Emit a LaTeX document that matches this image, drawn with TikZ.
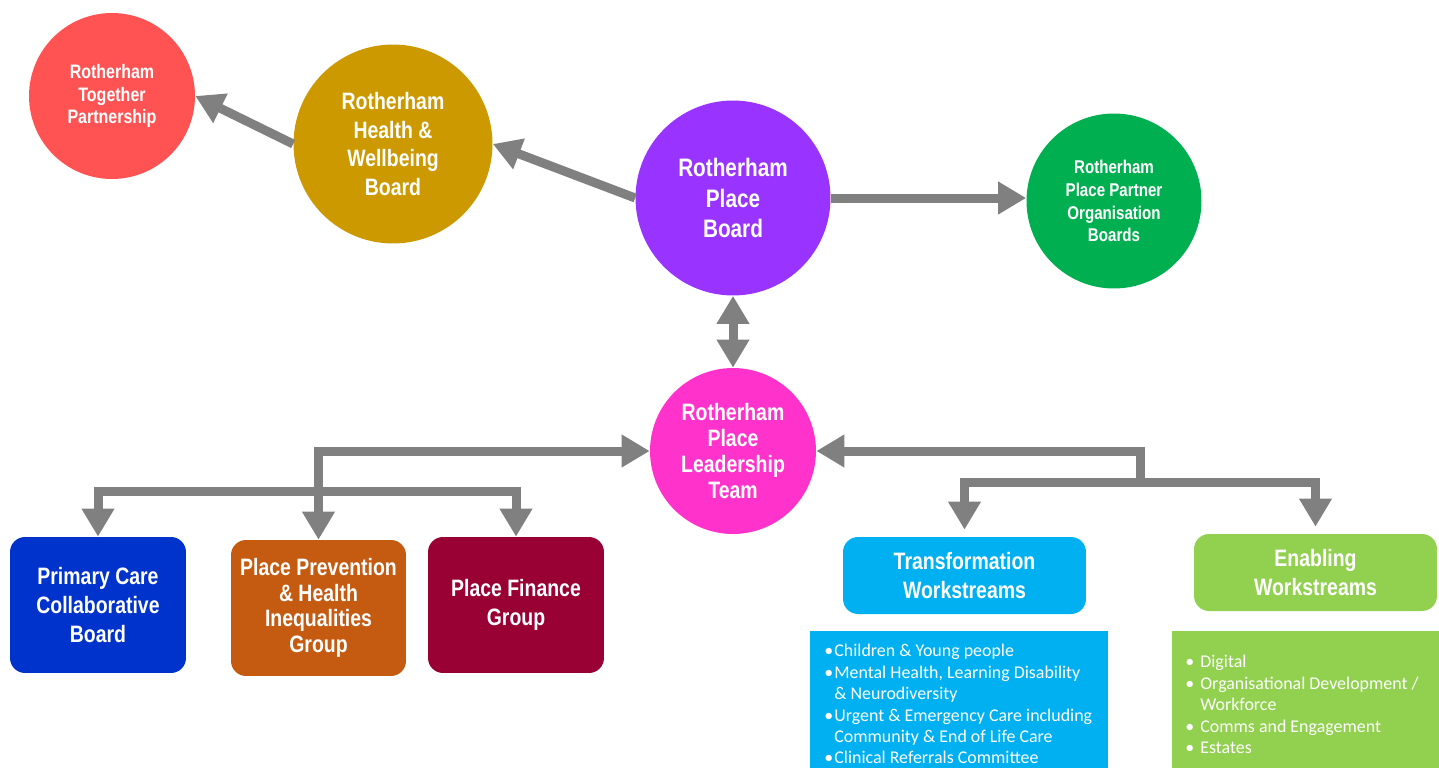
\documentclass[tikz,border=0pt]{standalone}
\usepackage{fontspec}
\setmainfont{Liberation Sans}
\newfontfamily\narrowfont[FakeStretch=0.82]{Liberation Sans}
\newfontfamily\listfont{Carlito}
\usetikzlibrary{arrows.meta}

\definecolor{togred}{HTML}{FF5353}
\definecolor{hwbgold}{HTML}{CC9900}
\definecolor{boardpurple}{HTML}{9933FF}
\definecolor{partgreen}{HTML}{00B050}
\definecolor{ldrpink}{HTML}{FF33CC}
\definecolor{primblue}{HTML}{0033CC}
\definecolor{prevorange}{HTML}{C55A11}
\definecolor{finred}{HTML}{990033}
\definecolor{transblue}{HTML}{00B0F0}
\definecolor{enabgreen}{HTML}{92D050}
\definecolor{arrowgray}{HTML}{808080}

\newcommand{\bfsize}[2]{\narrowfont\bfseries\fontsize{#1}{#2}\selectfont}
\newcommand{\bul}[1]{\makebox[#1][l]{\textbullet}}

\begin{document}
\begin{tikzpicture}[x=0.02cm, y=-0.02cm,
  bubble/.style={circle, fill=#1, text=white, inner sep=0pt, align=center},
  panel/.style={rectangle, rounded corners=0.3cm, fill=#1, text=white, inner sep=0pt, align=center},
  listbox/.style={rectangle, fill=#1, inner sep=0pt, anchor=north west},
  listtext/.style={anchor=north west, inner sep=0pt, align=left, text=white,
    font=\listfont\fontsize{10.2}{12.2}\selectfont},
  conn/.style={draw=arrowgray, line width=0.18cm, line join=miter,
    -{Triangle[width=0.62cm,length=0.56cm]}},
  twoway/.style={conn, {Triangle[width=0.62cm,length=0.56cm]}-{Triangle[width=0.62cm,length=0.56cm]}}]

	\useasboundingbox (0,0) rectangle (1439,767);
	\clip (0,0) rectangle (1439,767);

	% Circles top
	\node[bubble=togred, minimum size=3.32cm, font=\bfsize{11.1}{13}] (tog) at (112,96) {Rotherham\\Together\\Partnership};
	\node[bubble=hwbgold, minimum size=3.98cm, font=\bfsize{13.5}{16.4}] (hwb) at (393,144) {Rotherham\\Health \&\\Wellbeing\\Board};
	\node[bubble=boardpurple, minimum size=3.9cm, font=\bfsize{14.4}{17.6}] (board) at (733,198) {Rotherham\\Place\\Board};
	\node[bubble=partgreen, minimum size=3.5cm, font=\bfsize{10.5}{13}] (part) at (1114,201) {Rotherham\\Place Partner\\Organisation\\Boards};
	\node[bubble=ldrpink, minimum size=3.32cm, font=\bfsize{13.5}{14.7}] (ldr) at (733,451) {Rotherham\\Place\\Leadership\\Team};

	% Groups left
	\node[panel=primblue, minimum width=3.52cm, minimum height=2.72cm, font=\bfsize{13.5}{16.4}] (prim) at (98,605) {Primary Care\\Collaborative\\Board};
	\node[panel=prevorange, minimum width=3.5cm, minimum height=2.72cm, font=\bfsize{13.5}{14.6}] (prev) at (318.5,608) {Place Prevention\\\& Health\\Inequalities\\Group};
	\node[panel=finred, minimum width=3.52cm, minimum height=2.72cm, font=\bfsize{13.5}{16.4}] (fin) at (516,605) {Place Finance\\Group};

	% Workstreams right
	\node[panel=transblue, minimum width=4.86cm, minimum height=1.54cm, font=\bfsize{13.5}{16.4}] (trans) at (964.5,575.5) {Transformation\\Workstreams};
	\node[panel=enabgreen, minimum width=4.86cm, minimum height=1.54cm, font=\bfsize{13.5}{16.4}] (enab) at (1315.5,572.5) {Enabling\\Workstreams};

	% Lists
	\node[listbox=transblue, minimum width=5.96cm, minimum height=3cm] (tlist) at (810,631) {};
	\node[listtext] (ttext) at (824,644) {\bul{0.2cm}Children \& Young people\\
		\bul{0.2cm}Mental Health, Learning Disability\\
		\hspace*{0.2cm}\& Neurodiversity\\
		\bul{0.2cm}Urgent \& Emergency Care including\\
		\hspace*{0.2cm}Community \& End of Life Care\\
		\bul{0.2cm}Clinical Referrals Committee};
	\node[listbox=enabgreen, minimum width=5.34cm, minimum height=3cm] (elist) at (1172,631) {};
	\node[listtext] (etext) at (1185,655) {\bul{0.3cm}Digital\\
		\bul{0.3cm}Organisational Development /\\
		\hspace*{0.3cm}Workforce\\
		\bul{0.3cm}Comms and Engagement\\
		\bul{0.3cm}Estates};

	% Arrows
	\draw[conn] (hwb.west) -- (tog.east);
	\draw[conn] (board.west) -- (hwb.east);
	\draw[conn] (board.east) -- (board.east -| part.west);
	\draw[twoway] (board.south) -- (ldr.north);

	\coordinate (lsplit) at (318.5,491);
	\coordinate (rsplit) at (1140,482);
	\draw[twoway] (prev.north) |- (ldr.west);
	\draw[twoway] (prim.north) |- (lsplit) -| (fin.north);
	\draw[conn] (rsplit) |- (ldr.east);
	\draw[twoway] ([yshift=0.14cm]trans.north) |- (rsplit) -| ([yshift=0.14cm]enab.north);

\end{tikzpicture}
\end{document}
